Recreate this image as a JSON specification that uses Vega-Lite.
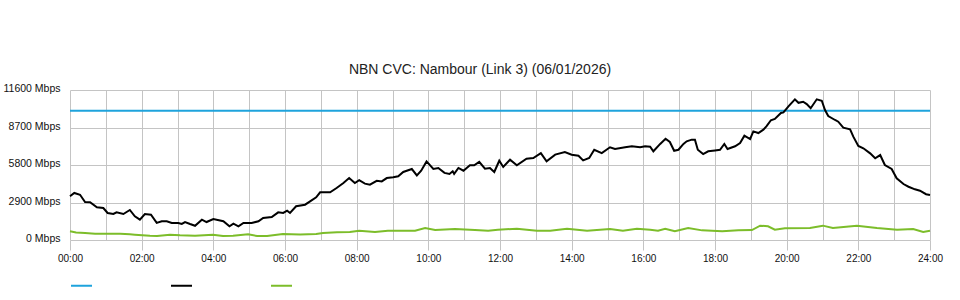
{
  "$schema": "https://vega.github.io/schema/vega-lite/v6.json",
  "width": 860,
  "height": 150,
  "autosize": {"type": "none"},
  "padding": {"left": 70, "top": 90, "right": 30, "bottom": 60},
  "background": "#ffffff",
  "config": {"view": {"stroke": null}, "font": "Liberation Sans"},
  "title": {"text": "NBN CVC: Nambour (Link 3) (06/01/2026)", "fontSize": 14, "fontWeight": "normal", "font": "Liberation Sans", "color": "#222222", "anchor": "middle", "dx": -20, "dy": 18, "baseline": "alphabetic", "offset": 14},
  "data": {"values": [
    {"series": "Capacity", "t": 0, "v": 10000},
    {"series": "Capacity", "t": 24, "v": 10000},
    {"series": "Download", "t": 0.00, "v": 3380},
    {"series": "Download", "t": 0.12, "v": 3640},
    {"series": "Download", "t": 0.28, "v": 3500},
    {"series": "Download", "t": 0.42, "v": 2940},
    {"series": "Download", "t": 0.56, "v": 2920},
    {"series": "Download", "t": 0.75, "v": 2530},
    {"series": "Download", "t": 0.93, "v": 2470},
    {"series": "Download", "t": 1.05, "v": 2090},
    {"series": "Download", "t": 1.21, "v": 2010},
    {"series": "Download", "t": 1.30, "v": 2140},
    {"series": "Download", "t": 1.49, "v": 2010},
    {"series": "Download", "t": 1.67, "v": 2320},
    {"series": "Download", "t": 1.81, "v": 1830},
    {"series": "Download", "t": 1.95, "v": 1570},
    {"series": "Download", "t": 2.09, "v": 2010},
    {"series": "Download", "t": 2.26, "v": 1960},
    {"series": "Download", "t": 2.42, "v": 1320},
    {"series": "Download", "t": 2.56, "v": 1450},
    {"series": "Download", "t": 2.70, "v": 1450},
    {"series": "Download", "t": 2.84, "v": 1320},
    {"series": "Download", "t": 3.02, "v": 1320},
    {"series": "Download", "t": 3.12, "v": 1240},
    {"series": "Download", "t": 3.21, "v": 1390},
    {"series": "Download", "t": 3.35, "v": 1240},
    {"series": "Download", "t": 3.49, "v": 1100},
    {"series": "Download", "t": 3.68, "v": 1570},
    {"series": "Download", "t": 3.81, "v": 1390},
    {"series": "Download", "t": 4.00, "v": 1620},
    {"series": "Download", "t": 4.28, "v": 1450},
    {"series": "Download", "t": 4.45, "v": 1060},
    {"series": "Download", "t": 4.56, "v": 1260},
    {"series": "Download", "t": 4.70, "v": 1060},
    {"series": "Download", "t": 4.84, "v": 1320},
    {"series": "Download", "t": 5.07, "v": 1320},
    {"series": "Download", "t": 5.26, "v": 1450},
    {"series": "Download", "t": 5.39, "v": 1700},
    {"series": "Download", "t": 5.63, "v": 1780},
    {"series": "Download", "t": 5.81, "v": 2140},
    {"series": "Download", "t": 5.95, "v": 2090},
    {"series": "Download", "t": 6.06, "v": 2270},
    {"series": "Download", "t": 6.14, "v": 2090},
    {"series": "Download", "t": 6.31, "v": 2610},
    {"series": "Download", "t": 6.56, "v": 2730},
    {"series": "Download", "t": 6.70, "v": 2990},
    {"series": "Download", "t": 6.87, "v": 3300},
    {"series": "Download", "t": 6.98, "v": 3690},
    {"series": "Download", "t": 7.26, "v": 3690},
    {"series": "Download", "t": 7.44, "v": 4020},
    {"series": "Download", "t": 7.63, "v": 4410},
    {"series": "Download", "t": 7.79, "v": 4790},
    {"series": "Download", "t": 7.95, "v": 4410},
    {"series": "Download", "t": 8.07, "v": 4620},
    {"series": "Download", "t": 8.23, "v": 4360},
    {"series": "Download", "t": 8.37, "v": 4280},
    {"series": "Download", "t": 8.56, "v": 4580},
    {"series": "Download", "t": 8.70, "v": 4530},
    {"series": "Download", "t": 8.84, "v": 4790},
    {"series": "Download", "t": 9.02, "v": 4850},
    {"series": "Download", "t": 9.16, "v": 4930},
    {"series": "Download", "t": 9.30, "v": 5260},
    {"series": "Download", "t": 9.54, "v": 5490},
    {"series": "Download", "t": 9.68, "v": 5000},
    {"series": "Download", "t": 9.80, "v": 5360},
    {"series": "Download", "t": 9.95, "v": 6080},
    {"series": "Download", "t": 10.14, "v": 5490},
    {"series": "Download", "t": 10.28, "v": 5570},
    {"series": "Download", "t": 10.45, "v": 5190},
    {"series": "Download", "t": 10.59, "v": 5110},
    {"series": "Download", "t": 10.68, "v": 5310},
    {"series": "Download", "t": 10.72, "v": 5110},
    {"series": "Download", "t": 10.84, "v": 5570},
    {"series": "Download", "t": 10.98, "v": 5360},
    {"series": "Download", "t": 11.16, "v": 5780},
    {"series": "Download", "t": 11.28, "v": 5780},
    {"series": "Download", "t": 11.42, "v": 6040},
    {"series": "Download", "t": 11.58, "v": 5510},
    {"series": "Download", "t": 11.72, "v": 5570},
    {"series": "Download", "t": 11.84, "v": 5260},
    {"series": "Download", "t": 11.98, "v": 6130},
    {"series": "Download", "t": 12.09, "v": 5650},
    {"series": "Download", "t": 12.28, "v": 6210},
    {"series": "Download", "t": 12.47, "v": 5780},
    {"series": "Download", "t": 12.74, "v": 6290},
    {"series": "Download", "t": 12.93, "v": 6340},
    {"series": "Download", "t": 13.14, "v": 6720},
    {"series": "Download", "t": 13.30, "v": 6080},
    {"series": "Download", "t": 13.54, "v": 6600},
    {"series": "Download", "t": 13.81, "v": 6800},
    {"series": "Download", "t": 14.00, "v": 6600},
    {"series": "Download", "t": 14.19, "v": 6520},
    {"series": "Download", "t": 14.32, "v": 6160},
    {"series": "Download", "t": 14.49, "v": 6340},
    {"series": "Download", "t": 14.63, "v": 6980},
    {"series": "Download", "t": 14.84, "v": 6720},
    {"series": "Download", "t": 15.07, "v": 7170},
    {"series": "Download", "t": 15.21, "v": 7040},
    {"series": "Download", "t": 15.49, "v": 7170},
    {"series": "Download", "t": 15.68, "v": 7250},
    {"series": "Download", "t": 15.91, "v": 7170},
    {"series": "Download", "t": 16.05, "v": 7250},
    {"series": "Download", "t": 16.19, "v": 7220},
    {"series": "Download", "t": 16.28, "v": 6860},
    {"series": "Download", "t": 16.47, "v": 7430},
    {"series": "Download", "t": 16.62, "v": 7830},
    {"series": "Download", "t": 16.74, "v": 7580},
    {"series": "Download", "t": 16.86, "v": 6900},
    {"series": "Download", "t": 16.98, "v": 6980},
    {"series": "Download", "t": 17.12, "v": 7430},
    {"series": "Download", "t": 17.21, "v": 7630},
    {"series": "Download", "t": 17.35, "v": 7760},
    {"series": "Download", "t": 17.44, "v": 7760},
    {"series": "Download", "t": 17.52, "v": 6980},
    {"series": "Download", "t": 17.67, "v": 6650},
    {"series": "Download", "t": 17.81, "v": 6860},
    {"series": "Download", "t": 18.00, "v": 6930},
    {"series": "Download", "t": 18.14, "v": 6980},
    {"series": "Download", "t": 18.26, "v": 7430},
    {"series": "Download", "t": 18.35, "v": 7040},
    {"series": "Download", "t": 18.56, "v": 7250},
    {"series": "Download", "t": 18.70, "v": 7500},
    {"series": "Download", "t": 18.82, "v": 8070},
    {"series": "Download", "t": 18.98, "v": 7810},
    {"series": "Download", "t": 19.07, "v": 8400},
    {"series": "Download", "t": 19.21, "v": 8270},
    {"series": "Download", "t": 19.35, "v": 8530},
    {"series": "Download", "t": 19.44, "v": 8800},
    {"series": "Download", "t": 19.56, "v": 9260},
    {"series": "Download", "t": 19.67, "v": 9360},
    {"series": "Download", "t": 19.84, "v": 9820},
    {"series": "Download", "t": 19.91, "v": 9870},
    {"series": "Download", "t": 20.05, "v": 10340},
    {"series": "Download", "t": 20.23, "v": 10880},
    {"series": "Download", "t": 20.33, "v": 10610},
    {"series": "Download", "t": 20.46, "v": 10690},
    {"series": "Download", "t": 20.56, "v": 10510},
    {"series": "Download", "t": 20.67, "v": 10190},
    {"series": "Download", "t": 20.84, "v": 10880},
    {"series": "Download", "t": 20.98, "v": 10770},
    {"series": "Download", "t": 21.07, "v": 10050},
    {"series": "Download", "t": 21.16, "v": 9590},
    {"series": "Download", "t": 21.35, "v": 9280},
    {"series": "Download", "t": 21.44, "v": 9150},
    {"series": "Download", "t": 21.58, "v": 8690},
    {"series": "Download", "t": 21.77, "v": 8560},
    {"series": "Download", "t": 21.86, "v": 7990},
    {"series": "Download", "t": 22.00, "v": 7270},
    {"series": "Download", "t": 22.14, "v": 7090},
    {"series": "Download", "t": 22.33, "v": 6700},
    {"series": "Download", "t": 22.47, "v": 6320},
    {"series": "Download", "t": 22.61, "v": 6570},
    {"series": "Download", "t": 22.74, "v": 5800},
    {"series": "Download", "t": 22.93, "v": 5490},
    {"series": "Download", "t": 23.07, "v": 4770},
    {"series": "Download", "t": 23.26, "v": 4330},
    {"series": "Download", "t": 23.40, "v": 4120},
    {"series": "Download", "t": 23.58, "v": 3920},
    {"series": "Download", "t": 23.72, "v": 3810},
    {"series": "Download", "t": 23.89, "v": 3540},
    {"series": "Download", "t": 24.00, "v": 3480},
    {"series": "Upload", "t": 0.00, "v": 670},
    {"series": "Upload", "t": 0.17, "v": 580},
    {"series": "Upload", "t": 0.42, "v": 540},
    {"series": "Upload", "t": 0.70, "v": 490},
    {"series": "Upload", "t": 1.40, "v": 490},
    {"series": "Upload", "t": 1.67, "v": 440},
    {"series": "Upload", "t": 1.81, "v": 410},
    {"series": "Upload", "t": 2.23, "v": 330},
    {"series": "Upload", "t": 2.43, "v": 310},
    {"series": "Upload", "t": 2.79, "v": 410},
    {"series": "Upload", "t": 3.07, "v": 360},
    {"series": "Upload", "t": 3.49, "v": 330},
    {"series": "Upload", "t": 3.99, "v": 410},
    {"series": "Upload", "t": 4.27, "v": 310},
    {"series": "Upload", "t": 4.55, "v": 330},
    {"series": "Upload", "t": 4.97, "v": 440},
    {"series": "Upload", "t": 5.22, "v": 310},
    {"series": "Upload", "t": 5.50, "v": 310},
    {"series": "Upload", "t": 5.94, "v": 460},
    {"series": "Upload", "t": 6.42, "v": 430},
    {"series": "Upload", "t": 6.87, "v": 460},
    {"series": "Upload", "t": 7.06, "v": 540},
    {"series": "Upload", "t": 7.45, "v": 590},
    {"series": "Upload", "t": 7.81, "v": 620},
    {"series": "Upload", "t": 8.07, "v": 720},
    {"series": "Upload", "t": 8.51, "v": 620},
    {"series": "Upload", "t": 8.87, "v": 720},
    {"series": "Upload", "t": 9.63, "v": 720},
    {"series": "Upload", "t": 9.91, "v": 925},
    {"series": "Upload", "t": 10.19, "v": 775},
    {"series": "Upload", "t": 10.74, "v": 855},
    {"series": "Upload", "t": 11.30, "v": 775},
    {"series": "Upload", "t": 11.67, "v": 720},
    {"series": "Upload", "t": 11.94, "v": 795},
    {"series": "Upload", "t": 12.47, "v": 875},
    {"series": "Upload", "t": 13.03, "v": 720},
    {"series": "Upload", "t": 13.40, "v": 720},
    {"series": "Upload", "t": 13.87, "v": 875},
    {"series": "Upload", "t": 14.43, "v": 720},
    {"series": "Upload", "t": 15.07, "v": 855},
    {"series": "Upload", "t": 15.43, "v": 720},
    {"series": "Upload", "t": 15.82, "v": 875},
    {"series": "Upload", "t": 16.19, "v": 795},
    {"series": "Upload", "t": 16.41, "v": 720},
    {"series": "Upload", "t": 16.61, "v": 875},
    {"series": "Upload", "t": 16.88, "v": 670},
    {"series": "Upload", "t": 17.25, "v": 925},
    {"series": "Upload", "t": 17.64, "v": 745},
    {"series": "Upload", "t": 18.20, "v": 670},
    {"series": "Upload", "t": 18.65, "v": 745},
    {"series": "Upload", "t": 19.03, "v": 765},
    {"series": "Upload", "t": 19.26, "v": 1110},
    {"series": "Upload", "t": 19.48, "v": 1060},
    {"series": "Upload", "t": 19.67, "v": 795},
    {"series": "Upload", "t": 19.95, "v": 905},
    {"series": "Upload", "t": 20.65, "v": 925},
    {"series": "Upload", "t": 21.01, "v": 1110},
    {"series": "Upload", "t": 21.29, "v": 925},
    {"series": "Upload", "t": 21.96, "v": 1110},
    {"series": "Upload", "t": 22.52, "v": 925},
    {"series": "Upload", "t": 23.08, "v": 795},
    {"series": "Upload", "t": 23.53, "v": 855},
    {"series": "Upload", "t": 23.81, "v": 620},
    {"series": "Upload", "t": 24.00, "v": 720}
  ]},
  "mark": {"type": "line", "strokeWidth": 2, "clip": false},
  "encoding": {
    "x": {
      "field": "t", "type": "quantitative",
      "scale": {"domain": [0, 24], "nice": false, "zero": false},
      "axis": {
        "title": null,
        "values": [0,1,2,3,4,5,6,7,8,9,10,11,12,13,14,15,16,17,18,19,20,21,22,23,24],
        "labelExpr": "datum.value % 2 === 0 ? pad(datum.value, 2, '0', 'left') + ':00' : ''",
        "grid": true, "gridColor": "#c4c4c4", "gridWidth": 1,
        "domain": false,
        "ticks": true, "tickSize": 10, "tickColor": "#c4c4c4",
        "tickOpacity": {"condition": {"test": "datum.value % 2 === 0", "value": 1}, "value": 0},
        "labelFont": "Liberation Sans", "labelFontSize": 10, "labelColor": "#111111",
        "labelPadding": 3, "labelFlush": false, "labelOverlap": false
      }
    },
    "y": {
      "field": "v", "type": "quantitative",
      "scale": {"domain": [0, 11600], "nice": false},
      "axis": {
        "title": null,
        "values": [0, 2900, 5800, 8700, 11600],
        "labelExpr": "datum.value + ' Mbps'",
        "grid": true, "gridColor": "#c4c4c4", "gridWidth": 1,
        "domain": false, "ticks": false,
        "labelFont": "Liberation Sans", "labelFontSize": 10.5, "labelColor": "#111111",
        "labelPadding": 10, "labelOffset": -1.5
      }
    },
    "color": {
      "field": "series", "type": "nominal",
      "scale": {"domain": ["Capacity", "Download", "Upload"], "range": ["#1ea3dc", "#000000", "#7cbd2a"]},
      "legend": {
        "title": null, "orient": "none", "legendX": 0, "legendY": 184,
        "direction": "horizontal", "symbolType": "stroke", "symbolSize": 441,
        "symbolStrokeWidth": 2, "labelExpr": "''", "labelOffset": 0,
        "columnPadding": 71, "padding": 0
      }
    }
  }
}
